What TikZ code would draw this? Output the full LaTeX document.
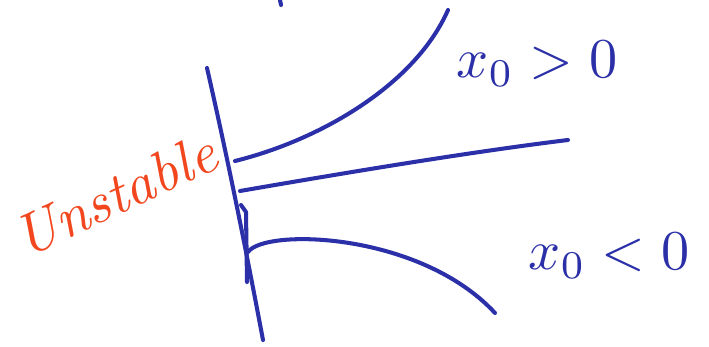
\documentclass[tikz,border=0pt]{standalone}
\usetikzlibrary{positioning}
\definecolor{Pen}{HTML}{2B30A8}
\definecolor{Marker}{HTML}{F2461E}

\begin{document}
\begin{tikzpicture}[x=0.02cm,y=-0.02cm,
  stroke/.style={Pen,line width=2.3pt,line cap=round,line join=round},
  penlabel/.style={text=Pen,scale=3.2,inner sep=0pt},
  warnlabel/.style={text=Marker,font=\itshape,scale=3.3,inner sep=0pt}]
\useasboundingbox (0,0) rectangle (709,347);
% axis
\draw[stroke] (207,68) .. controls (228,160) and (246,250) .. (263,340);
\draw[stroke] (241,205) -- (246,212) -- (247,282);
\draw[stroke] (280,0) -- (281,5);
% trajectories
\draw[stroke] (235,161) .. controls (320,140) and (415,85) .. (448,10);
\draw[stroke] (240,191) .. controls (350,172) and (470,152) .. (568,140);
\draw[stroke] (248,252) .. controls (265,228) and (420,232) .. (495,313);
% labels
\node[penlabel] (xpos) at (537,64) {$x_0>0$};
\node[penlabel] (xneg) at (609,256) {$x_0<0$};
\node[warnlabel,rotate=25] (unst) at (115,195) {Unstable};
\end{tikzpicture}
\end{document}
